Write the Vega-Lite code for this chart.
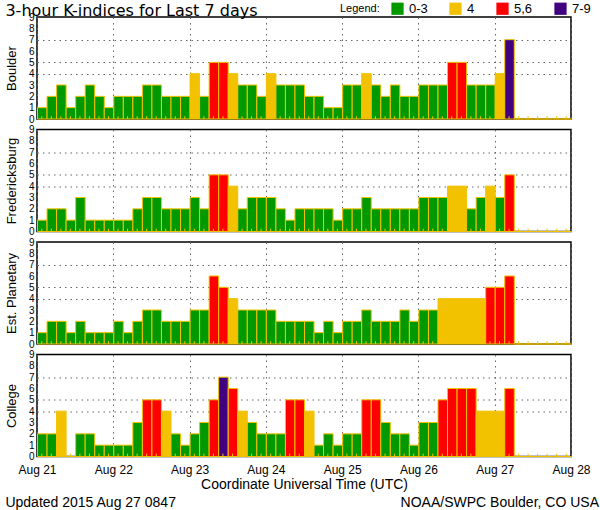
{
"$schema": "https://vega.github.io/schema/vega-lite/v6.json",
"padding": {"left": 4, "right": 2, "top": 2, "bottom": 2},
"background": "white",
"datasets": {"kp": [
{"s":"Boulder","t":"2015-08-21T00:00:00Z","k":1},{"s":"Boulder","t":"2015-08-21T03:00:00Z","k":2},{"s":"Boulder","t":"2015-08-21T06:00:00Z","k":3},{"s":"Boulder","t":"2015-08-21T09:00:00Z","k":1},{"s":"Boulder","t":"2015-08-21T12:00:00Z","k":2},{"s":"Boulder","t":"2015-08-21T15:00:00Z","k":3},{"s":"Boulder","t":"2015-08-21T18:00:00Z","k":2},{"s":"Boulder","t":"2015-08-21T21:00:00Z","k":1},
{"s":"Boulder","t":"2015-08-22T00:00:00Z","k":2},{"s":"Boulder","t":"2015-08-22T03:00:00Z","k":2},{"s":"Boulder","t":"2015-08-22T06:00:00Z","k":2},{"s":"Boulder","t":"2015-08-22T09:00:00Z","k":3},{"s":"Boulder","t":"2015-08-22T12:00:00Z","k":3},{"s":"Boulder","t":"2015-08-22T15:00:00Z","k":2},{"s":"Boulder","t":"2015-08-22T18:00:00Z","k":2},{"s":"Boulder","t":"2015-08-22T21:00:00Z","k":2},
{"s":"Boulder","t":"2015-08-23T00:00:00Z","k":4},{"s":"Boulder","t":"2015-08-23T03:00:00Z","k":2},{"s":"Boulder","t":"2015-08-23T06:00:00Z","k":5},{"s":"Boulder","t":"2015-08-23T09:00:00Z","k":5},{"s":"Boulder","t":"2015-08-23T12:00:00Z","k":4},{"s":"Boulder","t":"2015-08-23T15:00:00Z","k":3},{"s":"Boulder","t":"2015-08-23T18:00:00Z","k":3},{"s":"Boulder","t":"2015-08-23T21:00:00Z","k":2},
{"s":"Boulder","t":"2015-08-24T00:00:00Z","k":4},{"s":"Boulder","t":"2015-08-24T03:00:00Z","k":3},{"s":"Boulder","t":"2015-08-24T06:00:00Z","k":3},{"s":"Boulder","t":"2015-08-24T09:00:00Z","k":3},{"s":"Boulder","t":"2015-08-24T12:00:00Z","k":2},{"s":"Boulder","t":"2015-08-24T15:00:00Z","k":2},{"s":"Boulder","t":"2015-08-24T18:00:00Z","k":1},{"s":"Boulder","t":"2015-08-24T21:00:00Z","k":1},
{"s":"Boulder","t":"2015-08-25T00:00:00Z","k":3},{"s":"Boulder","t":"2015-08-25T03:00:00Z","k":3},{"s":"Boulder","t":"2015-08-25T06:00:00Z","k":4},{"s":"Boulder","t":"2015-08-25T09:00:00Z","k":3},{"s":"Boulder","t":"2015-08-25T12:00:00Z","k":2},{"s":"Boulder","t":"2015-08-25T15:00:00Z","k":3},{"s":"Boulder","t":"2015-08-25T18:00:00Z","k":2},{"s":"Boulder","t":"2015-08-25T21:00:00Z","k":2},
{"s":"Boulder","t":"2015-08-26T00:00:00Z","k":3},{"s":"Boulder","t":"2015-08-26T03:00:00Z","k":3},{"s":"Boulder","t":"2015-08-26T06:00:00Z","k":3},{"s":"Boulder","t":"2015-08-26T09:00:00Z","k":5},{"s":"Boulder","t":"2015-08-26T12:00:00Z","k":5},{"s":"Boulder","t":"2015-08-26T15:00:00Z","k":3},{"s":"Boulder","t":"2015-08-26T18:00:00Z","k":3},{"s":"Boulder","t":"2015-08-26T21:00:00Z","k":3},
{"s":"Boulder","t":"2015-08-27T00:00:00Z","k":4},{"s":"Boulder","t":"2015-08-27T03:00:00Z","k":7},{"s":"Boulder","t":"2015-08-27T06:00:00Z","k":0},{"s":"Boulder","t":"2015-08-27T09:00:00Z","k":0},{"s":"Boulder","t":"2015-08-27T12:00:00Z","k":0},{"s":"Boulder","t":"2015-08-27T15:00:00Z","k":0},{"s":"Boulder","t":"2015-08-27T18:00:00Z","k":0},{"s":"Boulder","t":"2015-08-27T21:00:00Z","k":0},
{"s":"Fredericksburg","t":"2015-08-21T00:00:00Z","k":1},{"s":"Fredericksburg","t":"2015-08-21T03:00:00Z","k":2},{"s":"Fredericksburg","t":"2015-08-21T06:00:00Z","k":2},{"s":"Fredericksburg","t":"2015-08-21T09:00:00Z","k":1},{"s":"Fredericksburg","t":"2015-08-21T12:00:00Z","k":3},{"s":"Fredericksburg","t":"2015-08-21T15:00:00Z","k":1},{"s":"Fredericksburg","t":"2015-08-21T18:00:00Z","k":1},{"s":"Fredericksburg","t":"2015-08-21T21:00:00Z","k":1},
{"s":"Fredericksburg","t":"2015-08-22T00:00:00Z","k":1},{"s":"Fredericksburg","t":"2015-08-22T03:00:00Z","k":1},{"s":"Fredericksburg","t":"2015-08-22T06:00:00Z","k":2},{"s":"Fredericksburg","t":"2015-08-22T09:00:00Z","k":3},{"s":"Fredericksburg","t":"2015-08-22T12:00:00Z","k":3},{"s":"Fredericksburg","t":"2015-08-22T15:00:00Z","k":2},{"s":"Fredericksburg","t":"2015-08-22T18:00:00Z","k":2},{"s":"Fredericksburg","t":"2015-08-22T21:00:00Z","k":2},
{"s":"Fredericksburg","t":"2015-08-23T00:00:00Z","k":3},{"s":"Fredericksburg","t":"2015-08-23T03:00:00Z","k":2},{"s":"Fredericksburg","t":"2015-08-23T06:00:00Z","k":5},{"s":"Fredericksburg","t":"2015-08-23T09:00:00Z","k":5},{"s":"Fredericksburg","t":"2015-08-23T12:00:00Z","k":4},{"s":"Fredericksburg","t":"2015-08-23T15:00:00Z","k":2},{"s":"Fredericksburg","t":"2015-08-23T18:00:00Z","k":3},{"s":"Fredericksburg","t":"2015-08-23T21:00:00Z","k":3},
{"s":"Fredericksburg","t":"2015-08-24T00:00:00Z","k":3},{"s":"Fredericksburg","t":"2015-08-24T03:00:00Z","k":2},{"s":"Fredericksburg","t":"2015-08-24T06:00:00Z","k":1},{"s":"Fredericksburg","t":"2015-08-24T09:00:00Z","k":2},{"s":"Fredericksburg","t":"2015-08-24T12:00:00Z","k":2},{"s":"Fredericksburg","t":"2015-08-24T15:00:00Z","k":2},{"s":"Fredericksburg","t":"2015-08-24T18:00:00Z","k":2},{"s":"Fredericksburg","t":"2015-08-24T21:00:00Z","k":1},
{"s":"Fredericksburg","t":"2015-08-25T00:00:00Z","k":2},{"s":"Fredericksburg","t":"2015-08-25T03:00:00Z","k":2},{"s":"Fredericksburg","t":"2015-08-25T06:00:00Z","k":3},{"s":"Fredericksburg","t":"2015-08-25T09:00:00Z","k":2},{"s":"Fredericksburg","t":"2015-08-25T12:00:00Z","k":2},{"s":"Fredericksburg","t":"2015-08-25T15:00:00Z","k":2},{"s":"Fredericksburg","t":"2015-08-25T18:00:00Z","k":2},{"s":"Fredericksburg","t":"2015-08-25T21:00:00Z","k":2},
{"s":"Fredericksburg","t":"2015-08-26T00:00:00Z","k":3},{"s":"Fredericksburg","t":"2015-08-26T03:00:00Z","k":3},{"s":"Fredericksburg","t":"2015-08-26T06:00:00Z","k":3},{"s":"Fredericksburg","t":"2015-08-26T09:00:00Z","k":4},{"s":"Fredericksburg","t":"2015-08-26T12:00:00Z","k":4},{"s":"Fredericksburg","t":"2015-08-26T15:00:00Z","k":2},{"s":"Fredericksburg","t":"2015-08-26T18:00:00Z","k":3},{"s":"Fredericksburg","t":"2015-08-26T21:00:00Z","k":4},
{"s":"Fredericksburg","t":"2015-08-27T00:00:00Z","k":3},{"s":"Fredericksburg","t":"2015-08-27T03:00:00Z","k":5},{"s":"Fredericksburg","t":"2015-08-27T06:00:00Z","k":0},{"s":"Fredericksburg","t":"2015-08-27T09:00:00Z","k":0},{"s":"Fredericksburg","t":"2015-08-27T12:00:00Z","k":0},{"s":"Fredericksburg","t":"2015-08-27T15:00:00Z","k":0},{"s":"Fredericksburg","t":"2015-08-27T18:00:00Z","k":0},{"s":"Fredericksburg","t":"2015-08-27T21:00:00Z","k":0},
{"s":"Planetary","t":"2015-08-21T00:00:00Z","k":1},{"s":"Planetary","t":"2015-08-21T03:00:00Z","k":2},{"s":"Planetary","t":"2015-08-21T06:00:00Z","k":2},{"s":"Planetary","t":"2015-08-21T09:00:00Z","k":1},{"s":"Planetary","t":"2015-08-21T12:00:00Z","k":2},{"s":"Planetary","t":"2015-08-21T15:00:00Z","k":1},{"s":"Planetary","t":"2015-08-21T18:00:00Z","k":1},{"s":"Planetary","t":"2015-08-21T21:00:00Z","k":1},
{"s":"Planetary","t":"2015-08-22T00:00:00Z","k":2},{"s":"Planetary","t":"2015-08-22T03:00:00Z","k":1},{"s":"Planetary","t":"2015-08-22T06:00:00Z","k":2},{"s":"Planetary","t":"2015-08-22T09:00:00Z","k":3},{"s":"Planetary","t":"2015-08-22T12:00:00Z","k":3},{"s":"Planetary","t":"2015-08-22T15:00:00Z","k":2},{"s":"Planetary","t":"2015-08-22T18:00:00Z","k":2},{"s":"Planetary","t":"2015-08-22T21:00:00Z","k":2},
{"s":"Planetary","t":"2015-08-23T00:00:00Z","k":3},{"s":"Planetary","t":"2015-08-23T03:00:00Z","k":3},{"s":"Planetary","t":"2015-08-23T06:00:00Z","k":6},{"s":"Planetary","t":"2015-08-23T09:00:00Z","k":5},{"s":"Planetary","t":"2015-08-23T12:00:00Z","k":4},{"s":"Planetary","t":"2015-08-23T15:00:00Z","k":3},{"s":"Planetary","t":"2015-08-23T18:00:00Z","k":3},{"s":"Planetary","t":"2015-08-23T21:00:00Z","k":3},
{"s":"Planetary","t":"2015-08-24T00:00:00Z","k":3},{"s":"Planetary","t":"2015-08-24T03:00:00Z","k":2},{"s":"Planetary","t":"2015-08-24T06:00:00Z","k":2},{"s":"Planetary","t":"2015-08-24T09:00:00Z","k":2},{"s":"Planetary","t":"2015-08-24T12:00:00Z","k":2},{"s":"Planetary","t":"2015-08-24T15:00:00Z","k":1},{"s":"Planetary","t":"2015-08-24T18:00:00Z","k":2},{"s":"Planetary","t":"2015-08-24T21:00:00Z","k":1},
{"s":"Planetary","t":"2015-08-25T00:00:00Z","k":2},{"s":"Planetary","t":"2015-08-25T03:00:00Z","k":2},{"s":"Planetary","t":"2015-08-25T06:00:00Z","k":3},{"s":"Planetary","t":"2015-08-25T09:00:00Z","k":2},{"s":"Planetary","t":"2015-08-25T12:00:00Z","k":2},{"s":"Planetary","t":"2015-08-25T15:00:00Z","k":2},{"s":"Planetary","t":"2015-08-25T18:00:00Z","k":3},{"s":"Planetary","t":"2015-08-25T21:00:00Z","k":2},
{"s":"Planetary","t":"2015-08-26T00:00:00Z","k":3},{"s":"Planetary","t":"2015-08-26T03:00:00Z","k":3},{"s":"Planetary","t":"2015-08-26T06:00:00Z","k":4},{"s":"Planetary","t":"2015-08-26T09:00:00Z","k":4},{"s":"Planetary","t":"2015-08-26T12:00:00Z","k":4},{"s":"Planetary","t":"2015-08-26T15:00:00Z","k":4},{"s":"Planetary","t":"2015-08-26T18:00:00Z","k":4},{"s":"Planetary","t":"2015-08-26T21:00:00Z","k":5},
{"s":"Planetary","t":"2015-08-27T00:00:00Z","k":5},{"s":"Planetary","t":"2015-08-27T03:00:00Z","k":6},{"s":"Planetary","t":"2015-08-27T06:00:00Z","k":0},{"s":"Planetary","t":"2015-08-27T09:00:00Z","k":0},{"s":"Planetary","t":"2015-08-27T12:00:00Z","k":0},{"s":"Planetary","t":"2015-08-27T15:00:00Z","k":0},{"s":"Planetary","t":"2015-08-27T18:00:00Z","k":0},{"s":"Planetary","t":"2015-08-27T21:00:00Z","k":0},
{"s":"College","t":"2015-08-21T00:00:00Z","k":2},{"s":"College","t":"2015-08-21T03:00:00Z","k":2},{"s":"College","t":"2015-08-21T06:00:00Z","k":4},{"s":"College","t":"2015-08-21T09:00:00Z","k":0},{"s":"College","t":"2015-08-21T12:00:00Z","k":2},{"s":"College","t":"2015-08-21T15:00:00Z","k":2},{"s":"College","t":"2015-08-21T18:00:00Z","k":1},{"s":"College","t":"2015-08-21T21:00:00Z","k":1},
{"s":"College","t":"2015-08-22T00:00:00Z","k":1},{"s":"College","t":"2015-08-22T03:00:00Z","k":1},{"s":"College","t":"2015-08-22T06:00:00Z","k":3},{"s":"College","t":"2015-08-22T09:00:00Z","k":5},{"s":"College","t":"2015-08-22T12:00:00Z","k":5},{"s":"College","t":"2015-08-22T15:00:00Z","k":4},{"s":"College","t":"2015-08-22T18:00:00Z","k":2},{"s":"College","t":"2015-08-22T21:00:00Z","k":1},
{"s":"College","t":"2015-08-23T00:00:00Z","k":2},{"s":"College","t":"2015-08-23T03:00:00Z","k":3},{"s":"College","t":"2015-08-23T06:00:00Z","k":5},{"s":"College","t":"2015-08-23T09:00:00Z","k":7},{"s":"College","t":"2015-08-23T12:00:00Z","k":6},{"s":"College","t":"2015-08-23T15:00:00Z","k":4},{"s":"College","t":"2015-08-23T18:00:00Z","k":3},{"s":"College","t":"2015-08-23T21:00:00Z","k":2},
{"s":"College","t":"2015-08-24T00:00:00Z","k":2},{"s":"College","t":"2015-08-24T03:00:00Z","k":2},{"s":"College","t":"2015-08-24T06:00:00Z","k":5},{"s":"College","t":"2015-08-24T09:00:00Z","k":5},{"s":"College","t":"2015-08-24T12:00:00Z","k":4},{"s":"College","t":"2015-08-24T15:00:00Z","k":1},{"s":"College","t":"2015-08-24T18:00:00Z","k":2},{"s":"College","t":"2015-08-24T21:00:00Z","k":1},
{"s":"College","t":"2015-08-25T00:00:00Z","k":2},{"s":"College","t":"2015-08-25T03:00:00Z","k":2},{"s":"College","t":"2015-08-25T06:00:00Z","k":5},{"s":"College","t":"2015-08-25T09:00:00Z","k":5},{"s":"College","t":"2015-08-25T12:00:00Z","k":3},{"s":"College","t":"2015-08-25T15:00:00Z","k":2},{"s":"College","t":"2015-08-25T18:00:00Z","k":2},{"s":"College","t":"2015-08-25T21:00:00Z","k":1},
{"s":"College","t":"2015-08-26T00:00:00Z","k":3},{"s":"College","t":"2015-08-26T03:00:00Z","k":3},{"s":"College","t":"2015-08-26T06:00:00Z","k":5},{"s":"College","t":"2015-08-26T09:00:00Z","k":6},{"s":"College","t":"2015-08-26T12:00:00Z","k":6},{"s":"College","t":"2015-08-26T15:00:00Z","k":6},{"s":"College","t":"2015-08-26T18:00:00Z","k":4},{"s":"College","t":"2015-08-26T21:00:00Z","k":4},
{"s":"College","t":"2015-08-27T00:00:00Z","k":4},{"s":"College","t":"2015-08-27T03:00:00Z","k":6},{"s":"College","t":"2015-08-27T06:00:00Z","k":0},{"s":"College","t":"2015-08-27T09:00:00Z","k":0},{"s":"College","t":"2015-08-27T12:00:00Z","k":0},{"s":"College","t":"2015-08-27T15:00:00Z","k":0},{"s":"College","t":"2015-08-27T18:00:00Z","k":0},{"s":"College","t":"2015-08-27T21:00:00Z","k":0}
]},
"data": {"name": "kp"},
"title": {"text": "NOAA/SWPC Boulder, CO USA", "orient": "bottom", "anchor": "end", "frame": "bounds", "offset": -14, "dx": 8, "font": "Liberation Sans", "fontSize": 14, "fontWeight": "normal", "color": "#000"},
"spacing": 10.5,
"bounds": "flush",
"resolve": {"scale": {"color": "shared", "opacity": "shared"}},
"vconcat": [
{
 "width": 534, "height": 102,
 "title": {"text": "3-hour K-indices for Last 7 days", "anchor": "start", "frame": "bounds", "font": "DejaVu Sans", "fontSize": 16, "fontWeight": "normal", "color": "#000", "offset": -7},
 "transform": [{"filter": "datum.s == 'Boulder'"}],
 "encoding": {
  "x": {"field": "t", "type": "temporal", "timeUnit": {"unit": "yearmonthdatehours", "step": 3, "utc": true},
   "scale": {"domain": [{"year": 2015, "month": 8, "date": 21, "utc": true}, {"year": 2015, "month": 8, "date": 28, "utc": true}]},
   "axis": {"values": [{"year":2015,"month":8,"date":21,"utc":true},{"year":2015,"month":8,"date":22,"utc":true},{"year":2015,"month":8,"date":23,"utc":true},{"year":2015,"month":8,"date":24,"utc":true},{"year":2015,"month":8,"date":25,"utc":true},{"year":2015,"month":8,"date":26,"utc":true},{"year":2015,"month":8,"date":27,"utc":true},{"year":2015,"month":8,"date":28,"utc":true}], "labels": false, "title": null, "grid": true}},
  "y": {"field": "k", "type": "quantitative", "scale": {"domain": [0, 9], "nice": false},
   "axis": {"values": [0,1,2,3,4,5,6,7,8,9], "title": "Boulder", "grid": true, "gridOpacity": {"condition": {"test": "datum.value == 4 || datum.value == 5 || datum.value == 7", "value": 1}, "value": 0}}}
 },
 "layer": [
  {"mark": {"type": "bar", "stroke": "#F2C200", "strokeWidth": 1, "binSpacing": 0},
   "encoding": {
    "color": {"field": "k", "type": "quantitative", "scale": {"type": "threshold", "domain": [4, 5, 7], "range": ["#009A00", "#F2C200", "#FF0000", "#41007F"]},
     "legend": {"type": "symbol", "title": "Legend:", "orient": "none", "legendX": 303, "legendY": -15, "direction": "horizontal", "titleOrient": "left", "titleBaseline": "middle", "symbolType": "square", "symbolSize": 150, "symbolStrokeWidth": 0, "labelExpr": "datum.index == 0 ? '0-3' : datum.index == 1 ? '4' : datum.index == 2 ? '5,6' : '7-9'", "labelFont": "Liberation Sans", "labelFontSize": 13, "labelColor": "#000", "titleFont": "Liberation Sans", "titleFontSize": 11, "titleFontWeight": "normal", "titleColor": "#000", "columnPadding": 21, "labelOffset": 5, "titlePadding": 11, "padding": 0}},
    "opacity": {"field": "k", "type": "quantitative", "scale": {"type": "threshold", "domain": [4, 5, 7], "range": [1, 1, 1, 1]},
     "legend": {"type": "symbol", "title": "Legend:", "orient": "none", "legendX": 303, "legendY": -15, "direction": "horizontal", "titleOrient": "left", "titleBaseline": "middle", "symbolType": "square", "symbolSize": 150, "symbolStrokeWidth": 0, "labelExpr": "datum.index == 0 ? '0-3' : datum.index == 1 ? '4' : datum.index == 2 ? '5,6' : '7-9'", "labelFont": "Liberation Sans", "labelFontSize": 13, "labelColor": "#000", "titleFont": "Liberation Sans", "titleFontSize": 11, "titleFontWeight": "normal", "titleColor": "#000", "columnPadding": 21, "labelOffset": 5, "titlePadding": 11, "padding": 0}}
   }},
  {"mark": {"type": "rule", "color": "#F2C200", "strokeWidth": 1},
   "encoding": {"x": {"field": "t", "type": "temporal", "timeUnit": {"unit": "yearmonthdatehours", "step": 3, "utc": true}, "bandPosition": 0.5}, "y": {"datum": 0}, "y2": {"datum": 0.25}}}
 ]
},
{
 "width": 534, "height": 102,
 "transform": [{"filter": "datum.s == 'Fredericksburg'"}],
 "encoding": {
  "x": {"field": "t", "type": "temporal", "timeUnit": {"unit": "yearmonthdatehours", "step": 3, "utc": true},
   "scale": {"domain": [{"year": 2015, "month": 8, "date": 21, "utc": true}, {"year": 2015, "month": 8, "date": 28, "utc": true}]},
   "axis": {"values": [{"year":2015,"month":8,"date":21,"utc":true},{"year":2015,"month":8,"date":22,"utc":true},{"year":2015,"month":8,"date":23,"utc":true},{"year":2015,"month":8,"date":24,"utc":true},{"year":2015,"month":8,"date":25,"utc":true},{"year":2015,"month":8,"date":26,"utc":true},{"year":2015,"month":8,"date":27,"utc":true},{"year":2015,"month":8,"date":28,"utc":true}], "labels": false, "title": null, "grid": true}},
  "y": {"field": "k", "type": "quantitative", "scale": {"domain": [0, 9], "nice": false},
   "axis": {"values": [0,1,2,3,4,5,6,7,8,9], "title": "Fredericksburg", "grid": true, "gridOpacity": {"condition": {"test": "datum.value == 4 || datum.value == 5 || datum.value == 7", "value": 1}, "value": 0}}}
 },
 "layer": [
  {"mark": {"type": "bar", "stroke": "#F2C200", "strokeWidth": 1, "binSpacing": 0},
   "encoding": {"color": {"field": "k", "type": "quantitative", "scale": {"type": "threshold", "domain": [4, 5, 7], "range": ["#009A00", "#F2C200", "#FF0000", "#41007F"]}, "legend": null}}},
  {"mark": {"type": "rule", "color": "#F2C200", "strokeWidth": 1},
   "encoding": {"x": {"field": "t", "type": "temporal", "timeUnit": {"unit": "yearmonthdatehours", "step": 3, "utc": true}, "bandPosition": 0.5}, "y": {"datum": 0}, "y2": {"datum": 0.25}}}
 ]
},
{
 "width": 534, "height": 102,
 "transform": [{"filter": "datum.s == 'Planetary'"}],
 "encoding": {
  "x": {"field": "t", "type": "temporal", "timeUnit": {"unit": "yearmonthdatehours", "step": 3, "utc": true},
   "scale": {"domain": [{"year": 2015, "month": 8, "date": 21, "utc": true}, {"year": 2015, "month": 8, "date": 28, "utc": true}]},
   "axis": {"values": [{"year":2015,"month":8,"date":21,"utc":true},{"year":2015,"month":8,"date":22,"utc":true},{"year":2015,"month":8,"date":23,"utc":true},{"year":2015,"month":8,"date":24,"utc":true},{"year":2015,"month":8,"date":25,"utc":true},{"year":2015,"month":8,"date":26,"utc":true},{"year":2015,"month":8,"date":27,"utc":true},{"year":2015,"month":8,"date":28,"utc":true}], "labels": false, "title": null, "grid": true}},
  "y": {"field": "k", "type": "quantitative", "scale": {"domain": [0, 9], "nice": false},
   "axis": {"values": [0,1,2,3,4,5,6,7,8,9], "title": "Est. Planetary", "grid": true, "gridOpacity": {"condition": {"test": "datum.value == 4 || datum.value == 5 || datum.value == 7", "value": 1}, "value": 0}}}
 },
 "layer": [
  {"mark": {"type": "bar", "stroke": "#F2C200", "strokeWidth": 1, "binSpacing": 0},
   "encoding": {"color": {"field": "k", "type": "quantitative", "scale": {"type": "threshold", "domain": [4, 5, 7], "range": ["#009A00", "#F2C200", "#FF0000", "#41007F"]}, "legend": null}}},
  {"mark": {"type": "rule", "color": "#F2C200", "strokeWidth": 1},
   "encoding": {"x": {"field": "t", "type": "temporal", "timeUnit": {"unit": "yearmonthdatehours", "step": 3, "utc": true}, "bandPosition": 0.5}, "y": {"datum": 0}, "y2": {"datum": 0.25}}}
 ]
},
{
 "width": 534, "height": 102,
 "title": {"text": "Updated 2015 Aug 27 0847", "orient": "bottom", "anchor": "start", "frame": "bounds", "font": "Liberation Sans", "fontSize": 14, "fontWeight": "normal", "color": "#000", "offset": 4},
 "transform": [{"filter": "datum.s == 'College'"}],
 "encoding": {
  "x": {"field": "t", "type": "temporal", "timeUnit": {"unit": "yearmonthdatehours", "step": 3, "utc": true},
   "scale": {"domain": [{"year": 2015, "month": 8, "date": 21, "utc": true}, {"year": 2015, "month": 8, "date": 28, "utc": true}]},
   "axis": {"values": [{"year":2015,"month":8,"date":21,"utc":true},{"year":2015,"month":8,"date":22,"utc":true},{"year":2015,"month":8,"date":23,"utc":true},{"year":2015,"month":8,"date":24,"utc":true},{"year":2015,"month":8,"date":25,"utc":true},{"year":2015,"month":8,"date":26,"utc":true},{"year":2015,"month":8,"date":27,"utc":true},{"year":2015,"month":8,"date":28,"utc":true}], "labelExpr": "utcFormat(datum.value, '%b %d')", "labelFontSize": 12, "labelPadding": 8, "labelFlush": false, "labelOverlap": false, "title": "Coordinate Universal Time (UTC)", "titleFontSize": 14, "titlePadding": 2, "grid": true}},
  "y": {"field": "k", "type": "quantitative", "scale": {"domain": [0, 9], "nice": false},
   "axis": {"values": [0,1,2,3,4,5,6,7,8,9], "title": "College", "grid": true, "gridOpacity": {"condition": {"test": "datum.value == 4 || datum.value == 5 || datum.value == 7", "value": 1}, "value": 0}}}
 },
 "layer": [
  {"mark": {"type": "bar", "stroke": "#F2C200", "strokeWidth": 1, "binSpacing": 0},
   "encoding": {"color": {"field": "k", "type": "quantitative", "scale": {"type": "threshold", "domain": [4, 5, 7], "range": ["#009A00", "#F2C200", "#FF0000", "#41007F"]}, "legend": null}}},
  {"mark": {"type": "rule", "color": "#F2C200", "strokeWidth": 1},
   "encoding": {"x": {"field": "t", "type": "temporal", "timeUnit": {"unit": "yearmonthdatehours", "step": 3, "utc": true}, "bandPosition": 0.5}, "y": {"datum": 0}, "y2": {"datum": 0.25}}}
 ]
}
],
"config": {
 "view": {"stroke": "#000", "strokeWidth": 1.5},
 "axis": {"labelFont": "Liberation Sans", "titleFont": "Liberation Sans", "labelColor": "#000", "titleColor": "#000", "titleFontWeight": "normal", "domain": false, "ticks": false, "gridColor": "#666666", "gridDash": [1.5, 4], "gridWidth": 1},
 "axisY": {"labelFontSize": 10, "labelPadding": 3, "titleFontSize": 13, "titlePadding": 10}
}
}
